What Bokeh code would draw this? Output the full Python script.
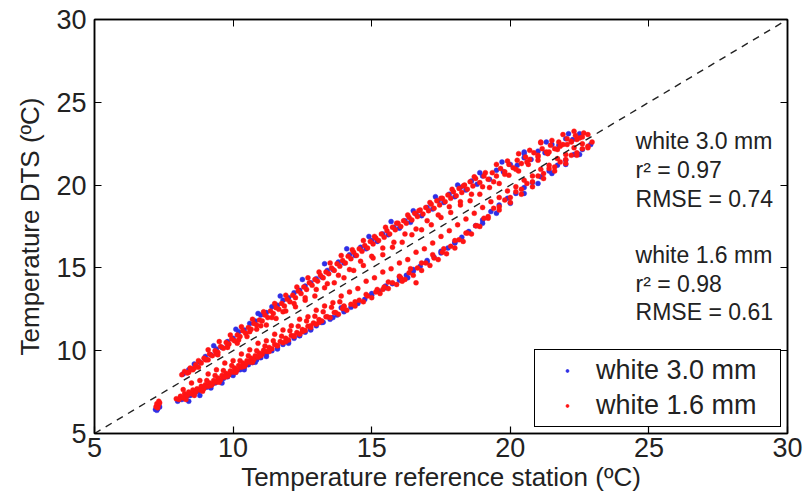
from bokeh.plotting import figure
from bokeh.models import Range1d, LinearAxis, Label, Legend, LegendItem, FixedTicker
from bokeh.embed import file_html
from bokeh.resources import INLINE

# ---------------- data ----------------
# white 1.6 mm (red): lower band
red_low_x = [7.22, 7.25, 7.30, 7.28, 7.35, 7.32, 7.95, 8.05, 8.10, 8.20, 8.25, 8.35, 8.40, 8.50, 8.55, 8.65,
             8.70, 8.80, 8.85, 8.95, 9.00, 9.10, 9.15, 9.25, 9.30, 9.40, 9.45, 9.55, 9.60, 9.70, 9.75, 9.85,
             9.90, 10.00, 10.05, 10.15, 10.20, 10.30, 10.35, 10.45, 10.50, 10.60, 10.65, 10.75, 10.80, 10.90,
             10.95, 11.05, 11.10, 11.20, 11.30, 11.40, 11.50, 11.60, 11.70, 11.80, 11.90, 12.00, 12.10, 12.20,
             12.30, 12.40, 12.50, 12.60, 12.70, 12.80, 12.90, 13.00, 13.10, 13.20, 13.35, 13.50, 13.65, 13.80,
             13.95, 14.10, 14.25, 14.40, 14.55, 14.70, 14.85, 15.00, 15.15, 15.30, 15.45, 15.60, 15.75, 15.90,
             16.05, 16.20, 16.35, 16.50, 16.65, 16.80, 16.95, 17.10, 17.25, 17.40, 17.55, 17.70, 17.85, 18.00,
             18.15, 18.30, 18.45, 18.60, 18.75, 18.90, 19.05, 19.20, 19.40, 19.60, 19.80, 20.00, 20.20, 20.40,
             20.60, 20.80, 21.00, 21.20, 21.40, 21.60, 21.80, 22.00, 22.20, 22.40, 22.60, 22.80, 22.95]
red_low_y = [6.62, 6.80, 6.70, 6.55, 6.85, 6.95, 7.10, 7.05, 7.25, 7.15, 7.40, 7.30, 7.50, 7.40, 7.62, 7.50,
             7.70, 7.62, 7.85, 7.72, 7.95, 7.85, 8.05, 7.98, 8.20, 8.10, 8.35, 8.25, 8.50, 8.40, 8.62, 8.55,
             8.78, 8.70, 8.95, 8.85, 9.10, 9.00, 9.25, 9.15, 9.40, 9.30, 9.55, 9.45, 9.70, 9.60,
             9.85, 9.80, 10.02, 9.95, 10.20, 10.12, 10.38, 10.30, 10.55, 10.48, 10.75, 10.65, 10.92, 10.85,
             11.10, 11.00, 11.28, 11.22, 11.48, 11.40, 11.68, 11.60, 11.88, 11.80, 12.05, 12.00, 12.30, 12.20,
             12.55, 12.45, 12.80, 12.70, 13.05, 12.95, 13.30, 13.20, 13.55, 13.45, 13.85, 13.75, 14.10, 14.00,
             14.40, 14.30, 14.70, 14.55, 15.00, 14.85, 15.30, 15.15, 15.60, 15.50, 15.95, 15.85, 16.30, 16.20,
             16.70, 16.60, 17.10, 17.05, 17.55, 17.50, 18.00, 18.10, 18.60, 18.70, 19.10, 19.25, 19.60, 19.75,
             20.10, 20.20, 20.55, 20.70, 21.00, 21.10, 21.40, 21.55, 21.80, 21.95, 22.20, 22.35, 22.60]
red_mid_x = [9.05, 9.35, 9.65, 9.95, 10.25, 10.55, 10.85, 11.15, 11.45, 11.75, 12.05, 12.35, 12.65, 12.95,
             13.25, 13.55, 13.85]
red_mid_y = [8.20, 8.50, 8.80, 9.10, 9.40, 9.70, 10.00, 10.28, 10.60, 10.88, 11.20, 11.48, 11.80, 12.08,
             12.35, 12.62, 12.95]
red_low2_x = [8.3, 8.6, 8.9, 9.2, 9.5, 9.8, 10.1, 10.4, 10.7, 11.0, 11.3, 11.6, 11.9, 12.2, 12.5, 12.8, 13.1,
              13.4, 13.7, 14.0, 14.4, 14.8, 15.2, 15.6, 16.0, 16.4, 16.8, 17.2, 17.6, 18.0, 18.4, 18.8, 19.2,
              19.6, 20.0, 20.4, 20.8, 21.2, 21.6, 22.0, 22.4, 22.8]
red_low2_y = [7.05, 7.30, 7.55, 7.90, 8.10, 8.45, 8.70, 9.05, 9.30, 9.70, 9.95, 10.30, 10.55, 10.90, 11.15,
              11.50, 11.70, 12.05, 12.30, 12.65, 12.95, 13.40, 13.70, 14.15, 14.50, 14.95, 15.30, 15.80, 16.15,
              16.65, 17.10, 17.55, 18.00, 18.50, 18.95, 19.45, 19.90, 20.40, 20.85, 21.30, 21.80, 22.25]
# points close to the 1:1 line (below it)
red_near_lo_x = [8.2, 8.5, 8.8, 9.1, 9.4, 9.7, 10.0, 10.3, 10.6, 10.9, 11.2, 11.5, 11.8, 12.1, 12.4, 12.7,
                 13.0, 13.3, 13.6, 13.9, 14.2, 14.5, 14.8, 15.1, 15.4, 15.7, 16.0, 16.3, 16.6, 16.9, 17.2, 17.5,
                 17.8, 18.1, 18.4, 18.7, 19.0, 19.3, 19.6, 19.9, 20.2, 20.5, 20.8, 21.1, 21.4, 21.7, 22.0, 22.3,
                 22.6]
red_near_lo_y = [7.65, 8.05, 8.20, 8.60, 8.85, 9.25, 9.40, 9.80, 10.05, 10.45, 10.60, 11.00, 11.25, 11.50,
                 11.90, 12.05, 12.45, 12.70, 12.90, 13.30, 13.55, 13.75, 14.20, 14.40, 14.75, 14.95, 15.30,
                 15.50, 15.95, 16.15, 16.50, 16.90, 17.25, 17.60, 17.95, 18.30, 18.65, 19.00, 19.25, 19.65,
                 19.90, 20.30, 20.55, 20.95, 21.20, 21.60, 21.85, 22.25, 22.50]
# points close to the 1:1 line (above it)
red_near_hi_x = [8.4, 8.75, 9.1, 9.45, 9.8, 10.15, 10.5, 10.85, 11.2, 11.55, 11.9, 12.25, 12.6, 12.95, 13.3,
                 13.65, 14.0, 14.35, 14.7, 15.05, 15.4, 15.75, 16.1, 16.45, 16.8, 17.15, 17.5, 17.85, 18.2,
                 18.55, 18.9, 19.25, 19.6, 19.95, 20.3, 20.65, 21.0, 21.35, 21.7, 22.05, 22.4]
red_near_hi_y = [8.70, 9.00, 9.45, 9.75, 10.20, 10.45, 10.85, 11.30, 11.55, 11.95, 12.40, 12.65, 13.05, 13.30,
                 13.80, 14.10, 14.40, 14.85, 15.15, 15.60, 15.80, 16.25, 16.55, 17.00, 17.30, 17.60, 18.05,
                 18.35, 18.80, 19.05, 19.45, 19.85, 20.10, 20.60, 20.85, 21.25, 21.50, 21.90, 22.15, 22.45,
                 22.75]
# white 1.6 mm (red): upper band
red_up_x = [8.15, 8.25, 8.35, 8.45, 8.55, 8.65, 8.75, 8.85, 8.95, 9.05, 9.15, 9.25, 9.35, 9.45, 9.55, 9.65,
            9.75, 9.85, 9.95, 10.05, 10.15, 10.25, 10.35, 10.45, 10.55, 10.65, 10.75, 10.85, 10.95, 11.05,
            11.15, 11.25, 11.35, 11.45, 11.55, 11.65, 11.75, 11.85, 11.95, 12.05, 12.15, 12.25, 12.35, 12.45,
            12.55, 12.65, 12.75, 12.85, 12.95, 13.05, 13.15, 13.25, 13.35, 13.45, 13.55, 13.65, 13.75, 13.85,
            13.95, 14.05, 14.15, 14.25, 14.35, 14.45, 14.55, 14.65, 14.75, 14.85, 14.95, 15.05, 15.15, 15.25,
            15.35, 15.45, 15.55, 15.65, 15.75, 15.85, 15.95, 16.05, 16.15, 16.25, 16.35, 16.45, 16.55, 16.65,
            16.75, 16.85, 16.95, 17.05, 17.15, 17.25, 17.35, 17.45, 17.55, 17.65, 17.75, 17.85, 17.95, 18.05,
            18.15, 18.25, 18.35, 18.45, 18.55, 18.65, 18.75, 18.90, 19.05, 19.20, 19.35, 19.50, 19.65, 19.80,
            19.95, 20.10, 20.25, 20.40, 20.55, 20.70, 20.85, 21.00, 21.15, 21.30, 21.45, 21.60, 21.75, 21.90,
            22.05, 22.20, 22.35, 22.50, 22.65, 22.80]
red_up_y = [8.55, 8.75, 8.65, 8.95, 8.85, 9.15, 9.40, 9.25, 9.55, 9.45, 9.80, 9.70, 10.00, 9.90, 10.25, 10.15,
            10.50, 10.40, 10.70, 10.60, 10.95, 10.85, 11.20, 11.05, 11.40, 11.30, 11.65, 11.55, 11.85, 11.80,
            12.15, 12.00, 12.40, 12.25, 12.60, 12.50, 12.85, 12.70, 13.10, 12.95, 13.35, 13.20, 13.60, 13.45,
            13.85, 13.70, 14.10, 13.95, 14.30, 14.20, 14.55, 14.40, 14.75, 14.65, 15.00, 14.85, 15.25, 15.10,
            15.45, 15.30, 15.70, 15.55, 15.95, 15.75, 16.15, 16.00, 16.35, 16.20, 16.60, 16.45, 16.80, 16.65,
            17.05, 16.85, 17.25, 17.05, 17.45, 17.30, 17.70, 17.50, 17.85, 17.70, 18.05, 17.90, 18.30, 18.10,
            18.50, 18.25, 18.65, 18.45, 18.85, 18.60, 19.05, 18.80, 19.20, 19.00, 19.40, 19.20, 19.60, 19.35,
            19.80, 19.55, 20.00, 19.75, 20.20, 19.95, 20.40, 20.15, 20.55, 20.35, 20.75, 20.55, 21.00, 20.80,
            21.25, 21.05, 21.50, 21.30, 21.70, 21.55, 21.95, 21.80, 22.20, 22.00, 22.40, 22.20, 22.60, 22.45,
            22.80, 22.65, 23.00, 22.85, 23.15, 23.05]
red_up2_x = [9.1, 9.5, 9.9, 10.3, 10.7, 11.1, 11.5, 11.9, 12.3, 12.7, 13.1, 13.5, 13.9, 14.3, 14.7, 15.1,
             15.5, 15.9, 16.3, 16.7, 17.1, 17.5, 17.9, 18.3, 18.7, 19.1, 19.5, 19.9, 20.3, 20.7, 21.1, 21.5,
             21.9, 22.3]
red_up2_y = [10.05, 10.55, 10.95, 11.45, 11.90, 12.35, 12.85, 13.35, 13.85, 14.40, 14.75, 15.30, 15.75,
             16.10, 16.65, 16.90, 17.45, 17.70, 18.20, 18.45, 18.95, 19.20, 19.75, 19.95, 20.50, 20.75, 21.25,
             21.45, 21.90, 22.10, 22.55, 22.70, 23.05, 23.25]
red_up3_x = [8.6, 9.0, 9.4, 9.8, 10.2, 10.6, 11.0, 11.4, 11.8, 12.2, 12.6, 13.0, 13.4, 13.8, 14.2, 14.6,
             15.0, 15.4, 15.8, 16.2, 16.6, 17.0, 17.4, 17.8, 18.2, 18.6, 19.0, 19.4, 19.8, 20.2, 20.6, 21.0,
             21.4, 21.8, 22.2, 22.6]
red_up3_y = [8.95, 9.45, 9.80, 10.30, 10.65, 11.15, 11.50, 12.00, 12.35, 12.85, 13.20, 13.70, 14.05, 14.55,
             14.90, 15.40, 15.70, 16.20, 16.55, 17.05, 17.35, 17.85, 18.20, 18.70, 19.00, 19.45, 19.90, 20.20,
             20.65, 20.95, 21.40, 21.70, 22.00, 22.35, 22.60, 22.90]
red_out_x = [14.0, 15.4, 16.1, 16.6, 21.1]
red_out_y = [12.7, 13.7, 14.2, 14.1, 22.6]

# white 3.0 mm (blue): lower band
blue_low_x = [7.20, 7.28, 7.35, 7.25, 7.32, 8.00, 8.15, 8.30, 8.45, 8.60, 8.75, 8.90, 9.05, 9.20, 9.35, 9.50,
              9.65, 9.80, 9.95, 10.10, 10.25, 10.40, 10.55, 10.70, 10.85, 11.00, 11.20, 11.40, 11.60, 11.80,
              12.00, 12.20, 12.40, 12.60, 12.80, 13.00, 13.25, 13.50, 13.75, 14.00, 14.25, 14.50, 14.75, 15.00,
              15.25, 15.50, 15.75, 16.00, 16.25, 16.50, 16.75, 17.00, 17.25, 17.50, 17.75, 18.00, 18.25, 18.50,
              18.75, 19.00, 19.30, 19.60, 19.90, 20.20, 20.50, 20.80, 21.10, 21.40, 21.70, 22.00, 22.30, 22.60,
              22.90]
blue_low_y = [6.45, 6.50, 6.60, 6.40, 6.72, 6.95, 7.05, 7.18, 7.30, 7.40, 7.55, 7.65, 7.80, 7.90, 8.05, 8.15,
              8.32, 8.42, 8.58, 8.70, 8.85, 8.98, 9.15, 9.28, 9.45, 9.58, 9.80, 10.00, 10.20, 10.38,
              10.55, 10.75, 10.92, 11.12, 11.30, 11.50, 11.72, 11.90, 12.15, 12.35, 12.62, 12.85, 13.10, 13.35,
              13.60, 13.80, 14.05, 14.25, 14.55, 14.80, 15.10, 15.35, 15.65, 15.90, 16.20, 16.50, 16.85, 17.20,
              17.55, 17.90, 18.40, 18.80, 19.20, 19.50, 19.85, 20.15, 20.50, 20.85, 21.20, 21.50, 21.85, 22.15,
              22.45]
blue_low2_x = [8.4, 8.8, 9.2, 9.6, 10.0, 10.4, 10.8, 11.2, 11.6, 12.0, 12.4, 12.8, 13.2, 13.6, 14.0, 14.5,
               15.0, 15.5, 16.0, 16.5, 17.0, 17.5, 18.0, 18.5, 19.0, 19.5, 20.0, 20.5, 21.0, 21.5, 22.0, 22.5]
blue_low2_y = [6.95, 7.30, 7.75, 8.05, 8.50, 8.85, 9.30, 9.65, 10.10, 10.45, 10.90, 11.25, 11.70, 12.00,
               12.45, 12.90, 13.45, 13.90, 14.45, 14.90, 15.45, 16.00, 16.55, 17.15, 17.70, 18.30, 18.90,
               19.50, 20.10, 20.70, 21.25, 21.85]
# white 3.0 mm (blue): upper band
blue_up_x = [8.20, 8.40, 8.60, 8.80, 9.00, 9.20, 9.40, 9.60, 9.80, 10.00, 10.20, 10.40, 10.60, 10.80, 11.00,
             11.20, 11.40, 11.60, 11.80, 12.00, 12.20, 12.40, 12.60, 12.80, 13.00, 13.20, 13.40, 13.60, 13.80,
             14.00, 14.20, 14.40, 14.60, 14.80, 15.00, 15.20, 15.40, 15.60, 15.80, 16.00, 16.20, 16.40, 16.60,
             16.80, 17.00, 17.20, 17.40, 17.60, 17.80, 18.00, 18.20, 18.40, 18.60, 18.80, 19.00, 19.25, 19.50,
             19.75, 20.00, 20.25, 20.50, 20.75, 21.00, 21.25, 21.50, 21.75, 22.00, 22.25, 22.50]
blue_up_y = [8.60, 8.85, 9.20, 9.30, 9.65, 9.75, 10.10, 10.20, 10.55, 10.75, 11.15, 11.25, 11.65, 11.80, 12.15,
             12.30, 12.65, 12.75, 13.05, 13.20, 13.50, 13.65, 13.90, 14.10, 14.35, 14.45, 14.85, 14.90, 15.35,
             15.30, 15.80, 15.75, 16.25, 16.15, 16.65, 16.60, 17.05, 17.00, 17.45, 17.40, 17.85, 17.75, 18.25,
             18.15, 18.65, 18.55, 19.05, 18.95, 19.45, 19.30, 19.85, 19.70, 20.25, 20.05, 20.55, 20.35, 20.90,
             20.80, 21.25, 21.20, 21.65, 21.55, 22.05, 21.95, 22.45, 22.40, 22.80, 22.75, 23.10]
blue_up2_x = [9.3, 10.1, 10.9, 11.7, 12.5, 13.3, 14.1, 14.9, 15.7, 16.5, 17.3, 18.1, 18.9, 19.7, 20.5, 21.3, 22.1]
blue_up2_y = [10.30, 11.30, 12.25, 13.30, 14.30, 15.25, 16.15, 16.90, 17.80, 18.45, 19.30, 20.00, 20.75, 21.40,
              22.00, 22.60, 23.10]
blue_out_x = [13.9, 16.3, 20.5]
blue_out_y = [12.6, 14.4, 21.9]

line_x = [5, 30]
line_y = [5, 30]

ticks = [5, 10, 15, 20, 25, 30]
series_names = ["white 3.0 mm", "white 1.6 mm"]
stats_3 = ["white 3.0 mm", "r\u00b2 = 0.97", "RMSE = 0.74"]
stats_16 = ["white 1.6 mm", "r\u00b2 = 0.98", "RMSE = 0.61"]

FONT = "Liberation Sans"
RED = "#ff1414"
BLUE = "#2f2fe6"

# ---------------- figure ----------------
p = figure(width=805, height=502, x_range=Range1d(5, 30), y_range=Range1d(5, 30),
           output_backend="svg", toolbar_location=None,
           min_border_left=94, min_border_right=18, min_border_top=19, min_border_bottom=69)
p.xgrid.visible = False
p.ygrid.visible = False
p.outline_line_color = "black"
p.outline_line_width = 1.5
p.background_fill_color = "white"
p.border_fill_color = "white"

for ax in (p.below[0], p.left[0]):
    ax.ticker = FixedTicker(ticks=ticks)
    ax.major_tick_in = 7
    ax.major_tick_out = 0
    ax.minor_tick_line_color = None
    ax.axis_line_color = "black"
    ax.axis_line_width = 1.5
    ax.major_tick_line_width = 1.2
    ax.major_label_text_font = FONT
    ax.major_label_text_font_size = "27px"
    ax.major_label_text_color = "#222222"
    ax.axis_label_text_font = FONT
    ax.axis_label_text_font_size = "26px"
    ax.axis_label_text_font_style = "normal"
    ax.axis_label_text_color = "#222222"

p.below[0].axis_label = "Temperature reference station (\u00baC)"
p.left[0].axis_label = "Temperature DTS (\u00baC)"
p.below[0].major_label_standoff = 4
p.below[0].axis_label_standoff = 2
p.left[0].major_label_standoff = 8
p.left[0].axis_label_standoff = 8
p.left[0].major_label_orientation = "horizontal"

for side in ("above", "right"):
    ax = LinearAxis(ticker=FixedTicker(ticks=ticks), major_tick_in=7, major_tick_out=0,
                    minor_tick_line_color=None, axis_line_color="black", axis_line_width=1.5,
                    major_label_overrides={t: "" for t in ticks}, major_label_standoff=0)
    p.add_layout(ax, side)

# scatter (blue first, red on top)
bx = blue_low_x + blue_low2_x + blue_up_x + blue_up2_x + blue_out_x
by = blue_low_y + blue_low2_y + blue_up_y + blue_up2_y + blue_out_y
rx = (red_low_x + red_mid_x + red_low2_x + red_near_lo_x + red_near_hi_x + red_up_x + red_up2_x
      + red_up3_x + red_out_x)
ry = (red_low_y + red_mid_y + red_low2_y + red_near_lo_y + red_near_hi_y + red_up_y + red_up2_y
      + red_up3_y + red_out_y)
p.scatter(bx, by, size=5, marker="circle", fill_color=BLUE, line_color=BLUE, line_width=0.4)
p.scatter(rx, ry, size=5, marker="circle", fill_color=RED, line_color=RED, line_width=0.4)

# legend-only glyphs (tiny dots as in the reference); their one point lies outside the axes
legend_dummy = [0]
lb = p.scatter(legend_dummy, legend_dummy, size=3, marker="circle", fill_color=BLUE, line_color=BLUE)
lr = p.scatter(legend_dummy, legend_dummy, size=3, marker="circle", fill_color=RED, line_color=RED)

# 1:1 line
p.line(line_x, line_y, line_color="#222222", line_width=1.4, line_dash="7 6")

# annotations
ys3 = [22.69, 20.94, 19.19]
ys16 = [15.75, 14.0, 12.31]
for txt, yy in list(zip(stats_3, ys3)) + list(zip(stats_16, ys16)):
    p.add_layout(Label(x=24.52, y=yy, text=txt, text_font=FONT, text_font_size="23px",
                       text_color="#222222", text_baseline="middle", text_align="left"))

legend = Legend(items=[LegendItem(label=series_names[0], renderers=[lb]),
                       LegendItem(label=series_names[1], renderers=[lr])],
                location="bottom_right", margin=6, padding=4, spacing=2,
                label_height=33, label_width=180, glyph_width=56, glyph_height=7,
                label_standoff=1, label_text_font=FONT, label_text_font_size="27px",
                label_text_color="#222222", border_line_color="black", border_line_width=1.5,
                border_line_alpha=1.0, background_fill_color="white", background_fill_alpha=1.0)
p.add_layout(legend, "center")

open("out.html", "w").write(file_html(p, INLINE))
